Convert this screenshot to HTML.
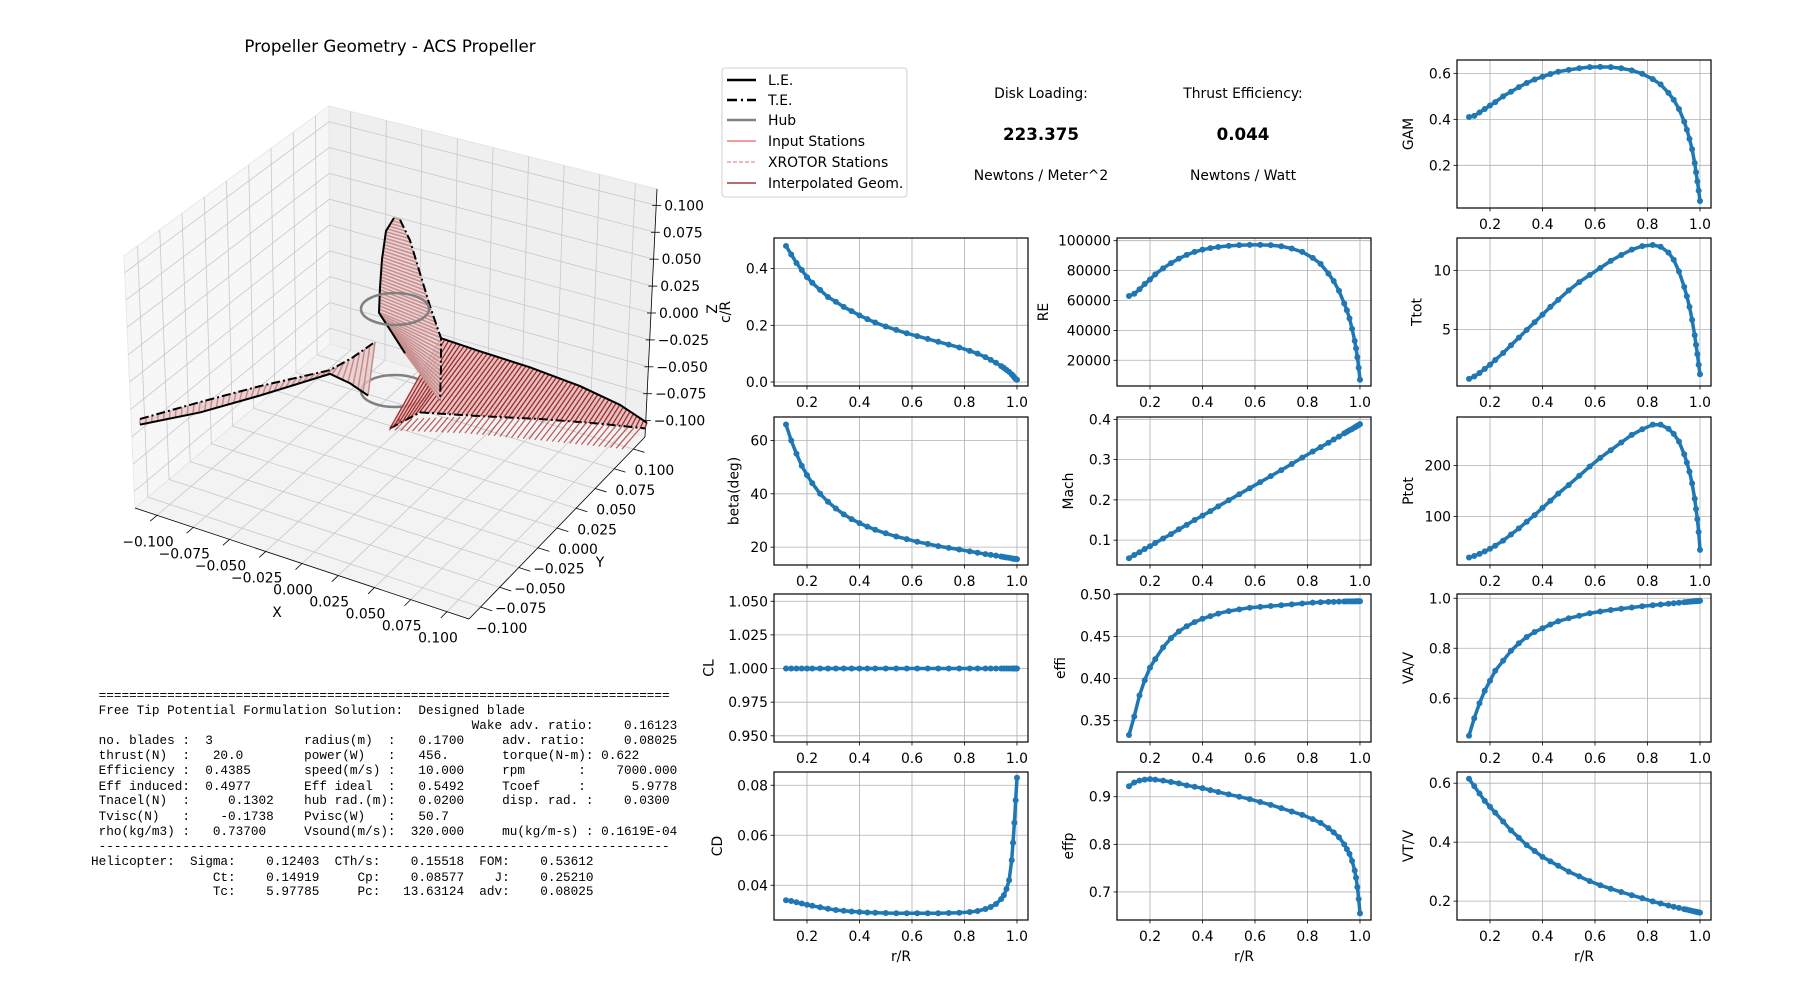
<!DOCTYPE html>
<html><head><meta charset="utf-8"><title>Propeller Geometry - ACS Propeller</title>
<style>
html,body{margin:0;padding:0;background:#fff;}
svg{display:block;font-family:"DejaVu Sans","Liberation Sans",sans-serif;}
.mono{font-family:"Liberation Mono",monospace;font-size:12.7px;white-space:pre;}
</style></head>
<body>
<svg id="fig" width="1800" height="1000" viewBox="0 0 1800 1000" xmlns="http://www.w3.org/2000/svg">
<rect width="1800" height="1000" fill="#fff"/>
<text x="390" y="52" font-size="16.7" text-anchor="middle">Propeller Geometry - ACS Propeller</text>
<g id="g3d"></g>
<g id="legend">
<rect x="722" y="68" width="185" height="129" rx="3" fill="#fff" stroke="#d0d0d0"/>
<g><line x1="727" y1="80" x2="756" y2="80" stroke="#000" stroke-width="2.5"/><text x="768" y="85" font-size="13.9">L.E.</text></g>
<g><line x1="727" y1="100" x2="756" y2="100" stroke="#000" stroke-width="2.5" stroke-dasharray="10,4,2,4"/><text x="768" y="105" font-size="13.9">T.E.</text></g>
<g><line x1="727" y1="120" x2="756" y2="120" stroke="#808080" stroke-width="2.5"/><text x="768" y="125" font-size="13.9">Hub</text></g>
<g><line x1="727" y1="141" x2="756" y2="141" stroke="#f06060" stroke-width="1.2"/><text x="768" y="146" font-size="13.9">Input Stations</text></g>
<g><line x1="727" y1="162" x2="756" y2="162" stroke="#e09090" stroke-width="1.2" stroke-dasharray="4,2"/><text x="768" y="167" font-size="13.9">XROTOR Stations</text></g>
<g><line x1="727" y1="183" x2="756" y2="183" stroke="#a03c3c" stroke-width="1.5"/><text x="768" y="188" font-size="13.9">Interpolated Geom.</text></g>
</g>
<g font-size="13.9" text-anchor="middle">
<text x="1041" y="98">Disk Loading:</text>
<text x="1041" y="140" font-size="16.7" font-weight="bold">223.375</text>
<text x="1041" y="180">Newtons / Meter^2</text>
</g>
<g font-size="13.9" text-anchor="middle">
<text x="1243" y="98">Thrust Efficiency:</text>
<text x="1243" y="140" font-size="16.7" font-weight="bold">0.044</text>
<text x="1243" y="180">Newtons / Watt</text>
</g>
<g id="report"></g>
<g id="charts"></g>
</svg>
<script>
// ===== chart data =====
const rR = [0.12,0.14,0.16,0.18,0.2,0.22,0.25,0.28,0.31,0.34,0.37,0.4,0.43,0.46,0.5,0.54,0.58,0.62,0.66,0.7,0.74,0.78,0.82,0.85,0.88,0.9,0.92,0.94,0.95,0.96,0.97,0.98,0.985,0.99,0.995,1.0];
const cR = [0.48,0.45,0.42,0.395,0.37,0.35,0.325,0.30,0.283,0.265,0.25,0.235,0.222,0.21,0.196,0.184,0.172,0.162,0.152,0.142,0.132,0.122,0.11,0.1,0.088,0.078,0.068,0.056,0.05,0.043,0.036,0.027,0.022,0.016,0.011,0.008];
const RE = [63000,64500,67500,71000,74000,77500,81500,85000,88000,90500,92500,94000,95000,95800,96500,97000,97200,97200,97000,96300,94800,92500,88500,84500,78000,73000,66500,58000,53500,48000,41000,33000,28000,22000,15000,7000];
const betaDeg = [66,60,55,50.5,47,44,40,37,34.5,32.3,30.5,29,27.7,26.5,25.2,24,23,22,21.2,20.4,19.7,19.1,18.4,17.9,17.4,17.1,16.8,16.5,16.3,16.1,16.0,15.8,15.7,15.6,15.6,15.5];
const mach = [0.055,0.063,0.070,0.078,0.085,0.093,0.104,0.115,0.127,0.138,0.150,0.161,0.172,0.184,0.199,0.214,0.229,0.244,0.259,0.274,0.289,0.305,0.320,0.331,0.342,0.350,0.357,0.365,0.369,0.373,0.376,0.380,0.382,0.384,0.386,0.388];
const CL = [1,1,1,1,1,1,1,1,1,1,1,1,1,1,1,1,1,1,1,1,1,1,1,1,1,1,1,1,1,1,1,1,1,1,1,1];
const effi = [0.333,0.355,0.38,0.398,0.413,0.423,0.437,0.448,0.456,0.462,0.467,0.471,0.474,0.477,0.48,0.482,0.484,0.485,0.486,0.487,0.488,0.489,0.49,0.4905,0.491,0.491,0.4912,0.4914,0.4915,0.4915,0.4916,0.4916,0.4917,0.4917,0.4917,0.4917];
const CD = [0.034,0.0337,0.0332,0.0327,0.0322,0.0318,0.0312,0.0306,0.0301,0.0298,0.0295,0.0293,0.0291,0.029,0.0289,0.0288,0.0288,0.0288,0.0288,0.0288,0.0289,0.029,0.0293,0.0297,0.0305,0.0313,0.0325,0.0345,0.036,0.0385,0.042,0.05,0.057,0.065,0.074,0.083];
const effp = [0.922,0.93,0.934,0.936,0.937,0.936,0.934,0.931,0.928,0.924,0.921,0.918,0.914,0.91,0.905,0.9,0.895,0.889,0.883,0.876,0.869,0.862,0.853,0.845,0.834,0.825,0.815,0.8,0.79,0.78,0.765,0.745,0.73,0.71,0.685,0.655];
const GAM = [0.41,0.415,0.43,0.445,0.46,0.475,0.5,0.52,0.54,0.558,0.573,0.585,0.597,0.607,0.615,0.622,0.627,0.628,0.627,0.622,0.613,0.598,0.575,0.552,0.515,0.485,0.445,0.39,0.355,0.315,0.27,0.21,0.17,0.13,0.09,0.045];
const Ttot = [0.8,1.0,1.3,1.65,2.0,2.4,3.0,3.65,4.3,4.95,5.6,6.25,6.9,7.5,8.3,9.0,9.6,10.2,10.8,11.3,11.75,12.05,12.15,12.0,11.5,10.9,9.9,8.6,7.8,6.9,5.8,4.5,3.7,2.9,2.0,1.2];
const Ptot = [20,23,27,32,37,43,53,65,77,90,103,117,131,145,162,180,198,215,230,245,260,271,280,280,272,262,247,222,206,188,165,135,115,95,70,35];
const VAV = [0.45,0.52,0.58,0.63,0.67,0.71,0.75,0.79,0.82,0.845,0.865,0.88,0.895,0.908,0.92,0.93,0.94,0.947,0.953,0.958,0.963,0.968,0.972,0.975,0.978,0.98,0.982,0.984,0.985,0.986,0.987,0.988,0.988,0.989,0.989,0.99];
const VTV = [0.615,0.59,0.565,0.54,0.52,0.50,0.47,0.44,0.415,0.39,0.37,0.35,0.335,0.32,0.3,0.284,0.268,0.254,0.242,0.231,0.22,0.21,0.199,0.192,0.185,0.181,0.177,0.173,0.171,0.169,0.167,0.165,0.164,0.163,0.162,0.161];
const xTicks = [0.2,0.4,0.6,0.8,1.0];
const xTickLabels = ["0.2","0.4","0.6","0.8","1.0"];
const cRTicks = [0,0.2,0.4];           const cRTickLabels = ["0.0","0.2","0.4"];
const RETicks = [20000,40000,60000,80000,100000]; const RETickLabels = ["20000","40000","60000","80000","100000"];
const betaTicks = [20,40,60];          const betaTickLabels = ["20","40","60"];
const machTicks = [0.1,0.2,0.3,0.4];   const machTickLabels = ["0.1","0.2","0.3","0.4"];
const CLTicks = [0.95,0.975,1.0,1.025,1.05]; const CLTickLabels = ["0.950","0.975","1.000","1.025","1.050"];
const effiTicks = [0.35,0.40,0.45,0.50]; const effiTickLabels = ["0.35","0.40","0.45","0.50"];
const CDTicks = [0.04,0.06,0.08];      const CDTickLabels = ["0.04","0.06","0.08"];
const effpTicks = [0.7,0.8,0.9];       const effpTickLabels = ["0.7","0.8","0.9"];
const GAMTicks = [0.2,0.4,0.6];        const GAMTickLabels = ["0.2","0.4","0.6"];
const TtotTicks = [5,10];              const TtotTickLabels = ["5","10"];
const PtotTicks = [100,200];           const PtotTickLabels = ["100","200"];
const VAVTicks = [0.6,0.8,1.0];        const VAVTickLabels = ["0.6","0.8","1.0"];
const VTVTicks = [0.2,0.4,0.6];        const VTVTickLabels = ["0.2","0.4","0.6"];
// 3D axis ticks
const tick3d = [-0.1,-0.075,-0.05,-0.025,0,0.025,0.05,0.075,0.1];
const tick3dLabels = ["\u22120.100","\u22120.075","\u22120.050","\u22120.025","0.000","0.025","0.050","0.075","0.100"];

const NS = "http://www.w3.org/2000/svg";
function mk(tag, attrs, parent){ const e=document.createElementNS(NS,tag); for(const k in attrs) e.setAttribute(k,attrs[k]); parent.appendChild(e); return e; }

const charts = document.getElementById('charts');
const W = 254, H = 148, XMIN = 0.0743, XMAX = 1.042;
const specs = [
 {id:'gam', label:'GAM', left:1457, top:60, ymin:0.0145, ymax:0.658, vals:GAM, ticks:GAMTicks, tl:GAMTickLabels},
 {id:'chord', label:'c/R', left:774, top:238, ymin:-0.014, ymax:0.508, vals:cR, ticks:cRTicks, tl:cRTickLabels},
 {id:'reynolds', label:'RE', left:1117, top:238, ymin:2800, ymax:101800, vals:RE, ticks:RETicks, tl:RETickLabels},
 {id:'ttot', label:'Ttot', left:1457, top:238, ymin:0.2, ymax:12.74, vals:Ttot, ticks:TtotTicks, tl:TtotTickLabels},
 {id:'beta', label:'beta(deg)', left:774, top:417, ymin:13.3, ymax:68.8, vals:betaDeg, ticks:betaTicks, tl:betaTickLabels},
 {id:'mach', label:'Mach', left:1117, top:417, ymin:0.0383, ymax:0.4058, vals:mach, ticks:machTicks, tl:machTickLabels},
 {id:'ptot', label:'Ptot', left:1457, top:417, ymin:5.3, ymax:295, vals:Ptot, ticks:PtotTicks, tl:PtotTickLabels},
 {id:'cl', label:'CL', left:774, top:594, ymin:0.9454, ymax:1.0554, vals:CL, ticks:CLTicks, tl:CLTickLabels},
 {id:'effi', label:'effi', left:1117, top:594, ymin:0.3247, ymax:0.5003, vals:effi, ticks:effiTicks, tl:effiTickLabels},
 {id:'vav', label:'VA/V', left:1457, top:594, ymin:0.425, ymax:1.017, vals:VAV, ticks:VAVTicks, tl:VAVTickLabels},
 {id:'cd', label:'CD', left:774, top:772, ymin:0.0261, ymax:0.0853, vals:CD, ticks:CDTicks, tl:CDTickLabels, xlabel:true},
 {id:'effp', label:'effp', left:1117, top:772, ymin:0.641, ymax:0.952, vals:effp, ticks:effpTicks, tl:effpTickLabels, xlabel:true},
 {id:'vtv', label:'VT/V', left:1457, top:772, ymin:0.136, ymax:0.638, vals:VTV, ticks:VTVTicks, tl:VTVTickLabels, xlabel:true}
];
specs.forEach(s=>{
  const g = mk('g',{},charts);
  
  
  const sx = v => s.left + (v-XMIN)/(XMAX-XMIN)*W;
  const sy = v => s.top + H - (v-s.ymin)/(s.ymax-s.ymin)*H;
  mk('rect',{x:s.left,y:s.top,width:W,height:H,fill:'#fff'},g);
  xTicks.forEach((t,i)=>{
    const x=sx(t);
    mk('line',{x1:x,y1:s.top,x2:x,y2:s.top+H,stroke:'#b0b0b0','stroke-width':0.8},g);
    mk('line',{x1:x,y1:s.top+H,x2:x,y2:s.top+H+3.5,stroke:'#000','stroke-width':0.8},g);
    const t1 = mk('text',{x:x,y:s.top+H+21,'font-size':13.9,'text-anchor':'middle'},g);
    t1.textContent = xTickLabels[i];
    
    
  });
  s.ticks.forEach((t,i)=>{
    const y=sy(t);
    mk('line',{x1:s.left,y1:y,x2:s.left+W,y2:y,stroke:'#b0b0b0','stroke-width':0.8},g);
    mk('line',{x1:s.left-3.5,y1:y,x2:s.left,y2:y,stroke:'#000','stroke-width':0.8},g);
    const t2 = mk('text',{x:s.left-6,y:y+5,'font-size':13.9,'text-anchor':'end'},g);
    t2.textContent = s.tl[i];
    
    
  });
  const maxLen = Math.max(...s.tl.map(l=>l.length));
  const lx = s.left - 6 - maxLen*8.3 - 13;
  const yl = mk('text',{x:lx,y:s.top+H/2,'font-size':13.9,'text-anchor':'middle',transform:`rotate(-90 ${lx} ${s.top+H/2})`},g);
  yl.textContent = s.label;
  
  
  if(s.xlabel){
    const xl = mk('text',{x:s.left+W/2,y:s.top+H+41,'font-size':13.9,'text-anchor':'middle'},g);
    xl.textContent = 'r/R';
    
    
  }
  const pts = rR.map((r,i)=>sx(r).toFixed(1)+','+sy(s.vals[i]).toFixed(1)).join(' ');
  const pl = mk('polyline',{points:pts,fill:'none',stroke:'#1f77b4','stroke-width':3.5,'stroke-linejoin':'round','stroke-linecap':'round'},g);
  
  
  rR.forEach((r,i)=>{
    const c = mk('circle',{cx:sx(r),cy:sy(s.vals[i]),r:3,fill:'#1f77b4'},g);
    
    
  });
  mk('rect',{x:s.left,y:s.top,width:W,height:H,fill:'none',stroke:'#000','stroke-width':1.2},g);
});

// ===== report text =====
const rep = document.getElementById('report');
const lines = [
 [[1,"="+"=".repeat(74)]],
 [[1,"Free Tip Potential Formulation Solution:  Designed blade"]],
 [[50,"Wake adv. ratio:"],[70,"0.16123"]],
 [[1,"no. blades :"],[15,"3"],[28,"radius(m)  :"],[43,"0.1700"],[54,"adv. ratio:"],[70,"0.08025"]],
 [[1,"thrust(N)  :"],[16,"20.0"],[28,"power(W)   :"],[43,"456."],[54,"torque(N-m):"],[67,"0.622"]],
 [[1,"Efficiency :"],[15,"0.4385"],[28,"speed(m/s) :"],[43,"10.000"],[54,"rpm"],[64,":"],[69,"7000.000"]],
 [[1,"Eff induced:"],[15,"0.4977"],[28,"Eff ideal  :"],[43,"0.5492"],[54,"Tcoef"],[64,":"],[71,"5.9778"]],
 [[1,"Tnacel(N)  :"],[18,"0.1302"],[28,"hub rad.(m):"],[43,"0.0200"],[54,"disp. rad. :"],[70,"0.0300"]],
 [[1,"Tvisc(N)   :"],[17,"-0.1738"],[28,"Pvisc(W)   :"],[43,"50.7"]],
 [[1,"rho(kg/m3) :"],[16,"0.73700"],[28,"Vsound(m/s):"],[42,"320.000"],[54,"mu(kg/m-s) : 0.1619E-04"]],
 [[1,"-".repeat(75)]],
 [[0,"Helicopter:"],[13,"Sigma:"],[23,"0.12403"],[32,"CTh/s:"],[42,"0.15518"],[51,"FOM:"],[59,"0.53612"]],
 [[16,"Ct:"],[23,"0.14919"],[35,"Cp:"],[42,"0.08577"],[53,"J:"],[59,"0.25210"]],
 [[16,"Tc:"],[23,"5.97785"],[35,"Pc:"],[41,"13.63124"],[51,"adv:"],[59,"0.08025"]]
];
const lineY = [699,714,729,744,759,774,790,804,820,835,850,865,881,895];
lines.forEach((ln,i)=>{
  let s = "";
  ln.forEach(([c,t])=>{ s = s.padEnd(c," ") + t; });
  const t = mk('text',{x:91,y:lineY[i],class:'mono'},rep);
  t.textContent = s;
  
  
});

// ===== 3D plot =====
const g3 = document.getElementById('g3d');
const P = {
 '000':[135,508],'100':[469,619],'110':[645,437],'010':[330,344],
 '001':[124,256],'101':[474,360],'111':[657,189],'011':[329,106]
};
function tri(a,b,c){
  const L=(p,q,t)=>[p[0]+(q[0]-p[0])*t,p[1]+(q[1]-p[1])*t];
  const x00=L(P['000'],P['100'],a), x10=L(P['010'],P['110'],a), x01=L(P['001'],P['101'],a), x11=L(P['011'],P['111'],a);
  const y0=L(x00,x10,b), y1=L(x01,x11,b);
  return L(y0,y1,c);
}
const f3 = v => 0.066 + (v+0.1)/0.2*0.868;
function poly(pts,attrs,name){ const e=mk('polygon',Object.assign({points:pts.map(p=>p.join(',')).join(' ')},attrs),g3);   return e; }
poly([P['000'],P['010'],P['011'],P['001']],{fill:'#f7f7f7',stroke:'#e8e8e8'},'x-pane');
poly([P['010'],P['110'],P['111'],P['011']],{fill:'#efefef',stroke:'#e6e6e6'},'y-pane');
poly([P['000'],P['100'],P['110'],P['010']],{fill:'#f3f3f3',stroke:'#e6e6e6'},'z-pane');
function ln(p,q,attrs){ return mk('line',Object.assign({x1:p[0],y1:p[1],x2:q[0],y2:q[1]},attrs),g3); }
const gridA = {stroke:'#c8c8c8','stroke-width':0.8};
tick3d.forEach(v=>{
  const t=f3(v);
  ln(tri(0,t,0),tri(0,t,1),gridA); ln(tri(0,0,t),tri(0,1,t),gridA);
  ln(tri(t,1,0),tri(t,1,1),gridA); ln(tri(0,1,t),tri(1,1,t),gridA);
  ln(tri(t,0,0),tri(t,1,0),gridA); ln(tri(0,t,0),tri(1,t,0),gridA);
});
ln(P['000'],P['100'],{stroke:'#000','stroke-width':0.8});
ln(P['100'],P['110'],{stroke:'#000','stroke-width':0.8});
ln(P['110'],P['111'],{stroke:'#000','stroke-width':0.8});
tick3d.forEach((v,i)=>{
  const t=f3(v);
  const px=tri(t,0,0), px2=tri(t,-0.035,0);
  ln(px,px2,{stroke:'#000','stroke-width':0.8});
  let e=mk('text',{x:px[0]-9,y:px[1]+31,'font-size':13.9,'text-anchor':'middle'},g3); e.textContent=tick3dLabels[i];
   
  const py=tri(1,t,0), py2=tri(1.035,t,0);
  ln(py,py2,{stroke:'#000','stroke-width':0.8});
  e=mk('text',{x:py[0]+21,y:py[1]+26,'font-size':13.9,'text-anchor':'middle'},g3); e.textContent=tick3dLabels[i];
   
  const pz=tri(1,1,t);
  ln([pz[0]-4,pz[1]],[pz[0]+5,pz[1]],{stroke:'#000','stroke-width':0.8});
  e=mk('text',{x:pz[0]+8,y:pz[1]+5,'font-size':13.9,'text-anchor':'start'},g3); e.textContent=tick3dLabels[i];
   
});
let ax=mk('text',{x:277,y:617,'font-size':13.9,'text-anchor':'middle'},g3); ax.textContent='X';
 
ax=mk('text',{x:600,y:567,'font-size':13.9,'text-anchor':'middle'},g3); ax.textContent='Y';
 
ax=mk('text',{x:717,y:309,'font-size':13.9,'text-anchor':'middle',transform:'rotate(-90 717 309)'},g3); ax.textContent='Z';
 

const Yf = p => [p[0], 90 + (p[1]-90)*0.94];
function samp(pl,t){
  const segs=[];let tot=0;
  for(let i=0;i<pl.length-1;i++){const d=Math.hypot(pl[i+1][0]-pl[i][0],pl[i+1][1]-pl[i][1]);segs.push(d);tot+=d;}
  let d=t*tot;
  for(let i=0;i<segs.length;i++){ if(d<=segs[i]||i==segs.length-1){const u=segs[i]?Math.min(d/segs[i],1):0;return [pl[i][0]+(pl[i+1][0]-pl[i][0])*u,pl[i][1]+(pl[i+1][1]-pl[i][1])*u];} d-=segs[i]; }
}
function blade(name,le0,te0,fill,stripe,n,sw){
  const le=le0.map(Yf), te=te0.map(Yf);
  const g=mk('g',{},g3);  
  mk('polygon',{points:le.concat(te.slice().reverse()).map(p=>p.join(',')).join(' '),fill:fill,opacity:0.8},g);
  for(let i=0;i<=n;i++){const a=samp(le,i/n),b=samp(te,i/n);mk('line',{x1:a[0],y1:a[1],x2:b[0],y2:b[1],stroke:stripe,'stroke-width':sw},g);}
  mk('polyline',{points:le.map(p=>p.join(',')).join(' '),fill:'none',stroke:'#000','stroke-width':2},g);
  mk('polyline',{points:te.map(p=>p.join(',')).join(' '),fill:'none',stroke:'#000','stroke-width':2,'stroke-dasharray':'9,3,2,3'},g);
}
let hub=mk('ellipse',{cx:395,cy:391,rx:34,ry:16,fill:'none',stroke:'#808080','stroke-width':2.5},g3);
 
blade('blade-left',[[140,446],[200,433],[260,415],[330,392],[350,402],[368,415]],[[140,440],[200,422],[260,405],[330,388],[352,375],[375,358]],'#e9c9c9','#c48c8c',40,1.5);
blade('blade-right',[[441,354],[480,368],[530,385],[580,405],[620,425],[647,444]],[[390,450],[420,433],[480,437],[540,440],[600,445],[645,450]],'#e2b4b4','#9e2a2a',55,1.3);
{ const g=mk('g',{},g3);  
  const up=[[400,440],[480,437],[540,440],[600,445],[640,450]].map(Yf), lo=[[395,452],[470,455],[540,462],[622,471],[628,472]].map(Yf);
  for(let i=0;i<=40;i++){const a=samp(up,i/40),b=samp(lo,i/40);mk('line',{x1:a[0],y1:a[1],x2:b[0]-6,y2:b[1],stroke:'#b03030','stroke-width':1.2,opacity:0.8},g);} }
blade('blade-up',[[394,226],[386,240],[382,270],[380,300],[379,327],[390,345],[405,370]],[[400,228],[410,250],[420,285],[430,320],[441,354],[441,385],[440,420]],'#ecd0d0','#c89090',45,1.6);
hub=mk('ellipse',{cx:395,cy:309,rx:34,ry:16,fill:'none',stroke:'#808080','stroke-width':2.5},g3);
 
</script>
</body></html>
